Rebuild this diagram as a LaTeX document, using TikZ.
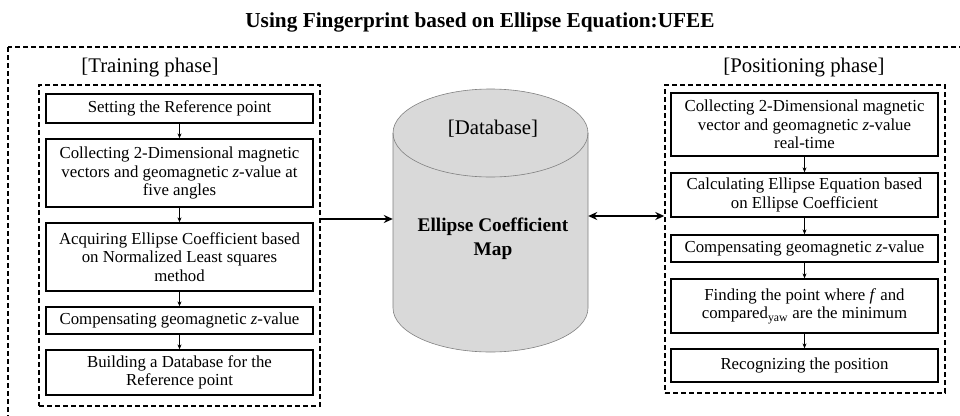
\documentclass[tikz,border=0pt]{standalone}
\usepackage{fontspec}
\setmainfont{Liberation Serif}
\usetikzlibrary{arrows.meta}

\begin{document}
\begin{tikzpicture}[x=1pt,y=-1pt,
		stepbox/.style={draw=black, line width=1.3pt, align=center, inner sep=0pt,
			minimum width=267pt, font=\fontsize{16.8}{18.5}\selectfont},
		groupbox/.style={draw=black, line width=1.4pt, dash pattern=on 5pt off 3pt, inner sep=0pt},
		phase/.style={black, font=\fontsize{20.8}{22}\selectfont},
		smallarrow/.style={draw=black, line width=0.8pt, -{Stealth[length=5pt,width=4pt]}},
		bigarrow/.style={draw=black, line width=2.2pt, -{Stealth[length=9pt,width=8pt]}},
		dbfill/.style={fill=black!15, draw=black!50, line width=0.6pt}]
		\useasboundingbox (0,0) rectangle (960,415);
		\node[font=\fontsize{21.3}{24}\selectfont\bfseries] (title) at (480,22) {Using Fingerprint based on Ellipse Equation:UFEE};
		\draw[groupbox] (8,47) rectangle (968,425);
		% training side
		\node[phase] (trainlbl) at (150,68) {[Training phase]};
		\node[groupbox, minimum width=281pt, minimum height=321pt] (train) at (179.5,245.5) {};
		\node[stepbox, minimum height=29pt] (t1) at (179.5,108.5) {Setting the Reference point};
		\node[stepbox, minimum height=68pt] (t2) at (179.5,173) {Collecting 2-Dimensional magnetic\\vectors and geomagnetic \textit{z}-value at\\five angles};
		\node[stepbox, minimum height=68pt] (t3) at (179.5,257) {Acquiring Ellipse Coefficient based\\on Normalized Least squares\\method};
		\node[stepbox, minimum height=27pt] (t4) at (179.5,320.5) {Compensating geomagnetic \textit{z}-value};
		\node[stepbox, minimum height=45pt] (t5) at (179.5,372.5) {Building a Database for the\\Reference point};
		\draw[smallarrow] (t1) -- (t2);
		\draw[smallarrow] (t2) -- (t3);
		\draw[smallarrow] (t3) -- (t4);
		\draw[smallarrow] (t4) -- (t5);
		% database cylinder
		\path[dbfill] (393,133) -- (393,308) arc[start angle=180, end angle=0, x radius=97.5, y radius=44]
			-- (588,133) arc[start angle=0, end angle=-180, x radius=97.5, y radius=44] -- cycle;
		\draw[draw=black!50, line width=0.6pt] (393,133) arc[start angle=180, end angle=0, x radius=97.5, y radius=44];
		\node[inner sep=0pt, minimum width=195pt, minimum height=264pt] (db) at (490.5,220) {};
		\node[phase] (dblbl) at (493,129) {[Database]};
		\node[align=center, font=\fontsize{19.3}{24}\selectfont\bfseries] (map) at (493,239) {Ellipse Coefficient\\Map};
		% positioning side
		\node[phase] (poslbl) at (804,68) {[Positioning phase]};
		\node[groupbox, minimum width=280pt, minimum height=308pt] (pos) at (805,239) {};
		\node[stepbox, minimum height=63pt] (p1) at (804.5,124.5) {Collecting 2-Dimensional magnetic\\vector and geomagnetic \textit{z}-value\\real-time};
		\node[stepbox, minimum height=44pt] (p2) at (804.5,195) {Calculating Ellipse Equation based\\on Ellipse Coefficient};
		\node[stepbox, minimum height=27pt] (p3) at (804.5,248.5) {Compensating geomagnetic \textit{z}-value};
		\node[stepbox, minimum height=54pt] (p4) at (804.5,306) {Finding the point where \textit{f} and\\compared\textsubscript{yaw} are the minimum};
		\node[stepbox, minimum height=33pt] (p5) at (804.5,365.5) {Recognizing the position};
		\draw[smallarrow] (p1) -- (p2);
		\draw[smallarrow] (p2) -- (p3);
		\draw[smallarrow] (p3) -- (p4);
		\draw[smallarrow] (p4) -- (p5);
		% links to the database
		\draw[bigarrow] ([yshift=1pt]train.east |- db.west) -- ([yshift=1pt]db.west);
		\draw[bigarrow, {Stealth[length=9pt,width=8pt]}-{Stealth[length=9pt,width=8pt]}] ([yshift=4pt]db.east) -- ([yshift=4pt]pos.west |- db.east);
	\end{tikzpicture}
\end{document}
